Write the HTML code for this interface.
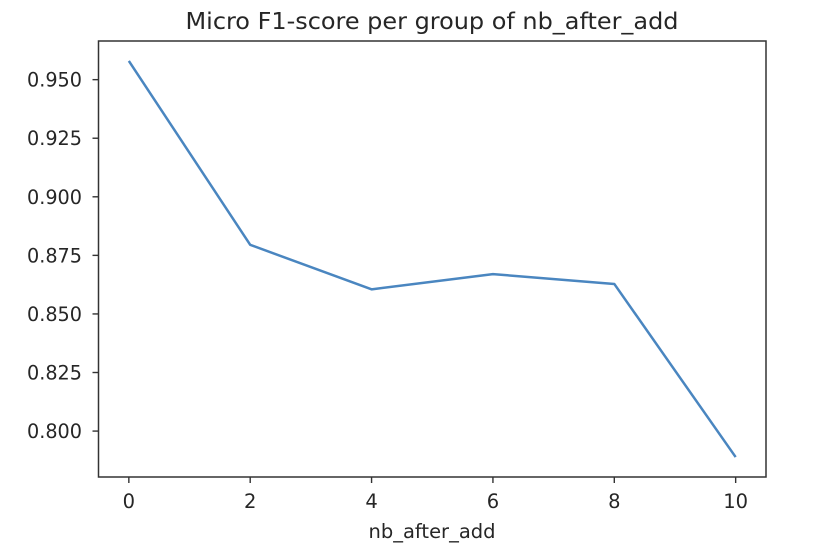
<!DOCTYPE html>
<html><head><meta charset="utf-8"><style>
body{margin:0;background:#fff;}
svg text{font-family:"DejaVu Sans","Liberation Sans",sans-serif;fill:#262626;}
</style></head><body>
<svg id="chart" width="816" height="552" xmlns="http://www.w3.org/2000/svg">
<text x="432" y="29" text-anchor="middle" font-size="23.5" textLength="493" lengthAdjust="spacingAndGlyphs">Micro F1-score per group of nb_after_add</text>
<text x="432" y="538" text-anchor="middle" font-size="19.5" textLength="127" lengthAdjust="spacingAndGlyphs">nb_after_add</text>
<g id="ticks"></g>
<path id="line" fill="none" stroke="#4a86c0" stroke-width="2.5" stroke-linejoin="round"/>
<rect x="98.5" y="41" width="667.5" height="436" fill="none" stroke="#333" stroke-width="1.5"/>
</svg>
<script>
const xValues=[0,2,4,6,8,10];
const f1Scores=[0.958,0.8795,0.8605,0.8670,0.8628,0.7889];
const xTicks=[0,2,4,6,8,10];
const yTicks=[0.800,0.825,0.850,0.875,0.900,0.925,0.950];
const L=98.5,R=766,T=41,B=477;
const xmin=-0.5,xmax=10.5,ymin=0.7804,ymax=0.9665;
const X=v=>L+(v-xmin)/(xmax-xmin)*(R-L);
const Y=v=>B-(v-ymin)/(ymax-ymin)*(B-T);
const ns='http://www.w3.org/2000/svg';
const g=document.getElementById('ticks');
function mk(t,a){const e=document.createElementNS(ns,t);for(const k in a)e.setAttribute(k,a[k]);g.appendChild(e);return e;}
xTicks.forEach(v=>{
 const l=mk('line',{x1:X(v),x2:X(v),y1:B,y2:B+6,stroke:'#333','stroke-width':1.4});
 
 
 const t=mk('text',{x:X(v),y:508,'text-anchor':'middle','font-size':19.5});
 
 
 t.textContent=v;
});
yTicks.forEach(v=>{
 const l=mk('line',{x1:L-6,x2:L,y1:Y(v),y2:Y(v),stroke:'#333','stroke-width':1.4});
 
 
 const t=mk('text',{x:82,y:Y(v)+7,'text-anchor':'end','font-size':19.5,textLength:55,lengthAdjust:'spacingAndGlyphs'});
 
 
 t.textContent=v.toFixed(3);
});
document.getElementById('line').setAttribute('d',xValues.map((x,i)=>(i?'L':'M')+X(x)+','+Y(f1Scores[i])).join(' '));
</script>
</body></html>
